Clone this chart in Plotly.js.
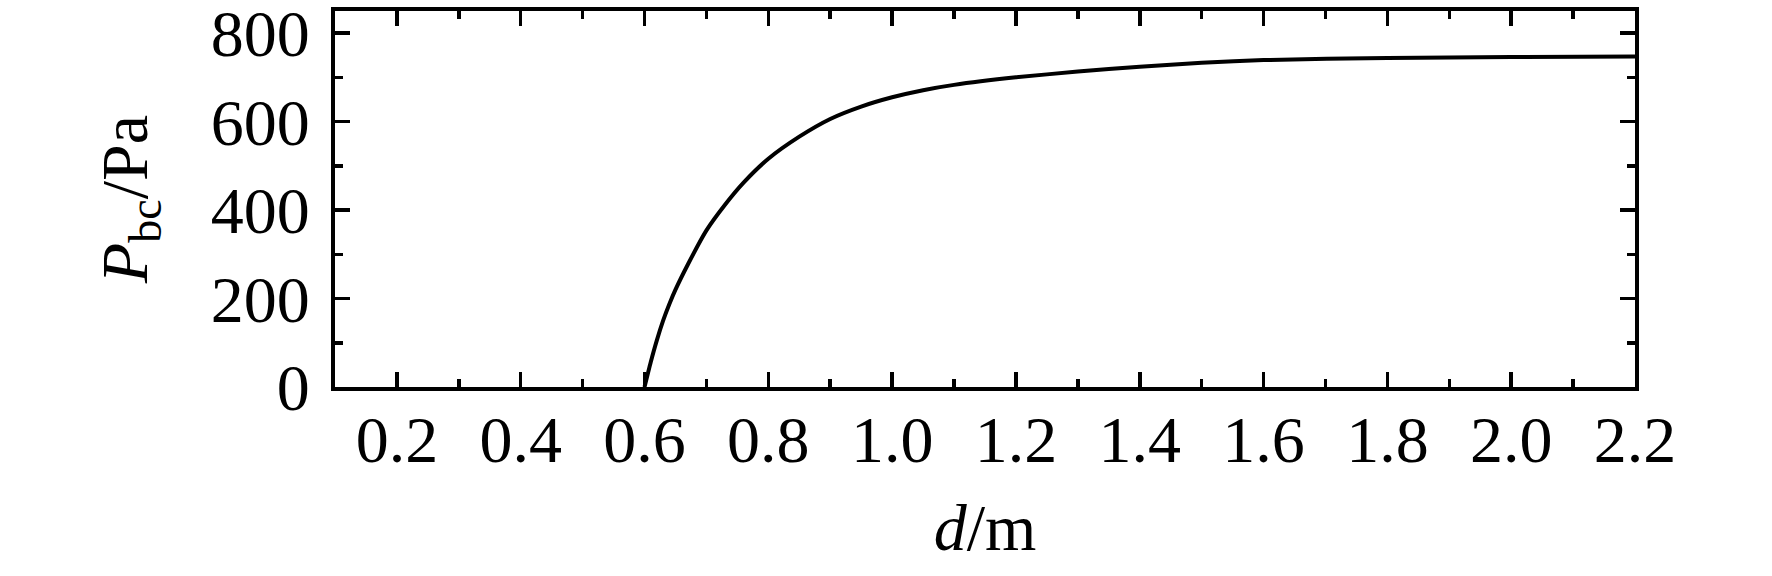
<!DOCTYPE html>
<html>
<head>
<meta charset="utf-8">
<script src="https://cdn.plot.ly/plotly-3.0.1.min.js"></script>
<style>
  html, body { margin: 0; padding: 0; background: #fff; }
  #chart { width: 1772px; height: 576px; }
</style>
</head>
<body>
<div id="chart"></div>
<script>
// d (m) against P_bc (Pa)
var distance = [0.60, 0.61, 0.62, 0.63, 0.64, 0.65, 0.67, 0.70, 0.73, 0.76, 0.80,
                0.85, 0.90, 0.95, 1.00, 1.05, 1.10, 1.20, 1.30, 1.40, 1.50,
                1.60, 1.80, 2.00, 2.20];
var pressure = [0, 56, 106, 150, 187, 220, 277, 354, 412, 462, 516,
                566, 606, 634, 655, 671, 683, 700, 713, 724, 733,
                739, 744, 746, 747];

var xTicks = [0.2, 0.4, 0.6, 0.8, 1.0, 1.2, 1.4, 1.6, 1.8, 2.0, 2.2];
var xTickText = ["0.2", "0.4", "0.6", "0.8", "1.0", "1.2", "1.4", "1.6", "1.8", "2.0", "2.2"];
var yTicks = [0, 200, 400, 600, 800];

var serif = "Times New Roman, Liberation Serif, serif";

var trace = {
    x: distance,
    y: pressure,
    type: 'scatter',
    mode: 'lines',
    line: {color: '#000', width: 4, shape: 'spline', smoothing: 0.6},
    hoverinfo: 'skip'
};

var axisCommon = {
    showline: true,
    linecolor: '#000',
    linewidth: 4,
    mirror: 'ticks',
    ticks: 'inside',
    ticklen: 15,
    tickwidth: 3.5,
    tickcolor: '#000',
    showgrid: false,
    zeroline: false,
    ticklabeloverflow: 'allow',
    tickfont: {family: serif, size: 66, color: '#000'}
};

var layout = {
    width: 1772,
    height: 576,
    margin: {l: 335, r: 137, t: 11, b: 189},
    paper_bgcolor: '#fff',
    plot_bgcolor: '#fff',
    showlegend: false,
    xaxis: Object.assign({}, axisCommon, {
        range: [0.1, 2.2],
        tickmode: 'array',
        tickvals: xTicks,
        ticktext: xTickText,
        ticklabelstandoff: -8,
        minor: {dtick: 0.1, tick0: 0, ticks: 'inside', ticklen: 8, tickwidth: 3.5, tickcolor: '#000'},
        title: {text: '<i>d</i>/m', font: {family: serif, size: 66, color: '#000'}, standoff: 30}
    }),
    yaxis: Object.assign({}, axisCommon, {
        range: [0, 850],
        tickmode: 'array',
        tickvals: yTicks,
        ticklabelstandoff: 8,
        minor: {dtick: 100, tick0: 0, ticks: 'inside', ticklen: 8, tickwidth: 3.5, tickcolor: '#000'},
        title: {text: '<i>P</i><sub>bc</sub>/Pa', font: {family: serif, size: 66, color: '#000'}, standoff: 43}
    })
};

Plotly.newPlot('chart', [trace], layout, {staticPlot: true, displayModeBar: false});
</script>
</body>
</html>
